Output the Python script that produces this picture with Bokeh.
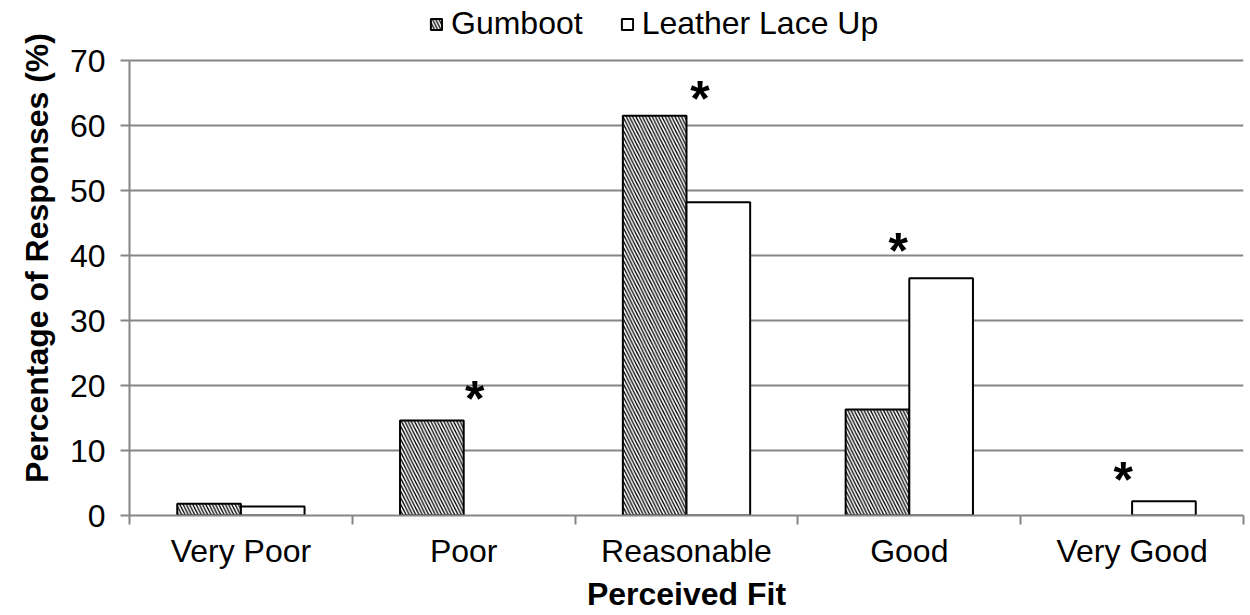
from bokeh.plotting import figure
from bokeh.models import FixedTicker, Legend, LegendItem, ColumnDataSource, Range1d
from bokeh.core.properties import value
from bokeh.embed import file_html
from bokeh.resources import INLINE

categories = ["Very Poor", "Poor", "Reasonable", "Good", "Very Good"]
gumboot = [1.8, 14.6, 61.5, 16.3, 0.0]
leather = [1.4, 0.0, 48.2, 36.5, 2.2]
series_names = ["Gumboot", "Leather Lace Up"]
star_categories = ["Poor", "Reasonable", "Good", "Very Good"]
star_heights = [18.0, 64.1, 40.7, 5.4]
star_shift = [0.05, 0.06, -0.05, -0.04]
y_ticks = [0, 10, 20, 30, 40, 50, 60, 70]

FONT = "Liberation Sans"
GRAY = "#868686"
BAR_W = 1 / 3.5

# layout (pixels)
W, H = 1250, 615
LEFT, RIGHT, BOTTOM = 129, 7, 100
AXIS_TOP = 60                      # pixel row of the 70 gridline
frame_h = H - BOTTOM                # frame extends to the top edge
y_max = 70
y_end = y_max * frame_h / (frame_h - AXIS_TOP)

centers = {c: i + 0.5 for i, c in enumerate(categories)}

def bar_source(vals, side):
    xs, tops = [], []
    for c, v in zip(categories, vals):
        if v > 0:
            xs.append(centers[c] + side * BAR_W / 2)
            tops.append(v)
    return ColumnDataSource(dict(x=xs, top=tops))

p = figure(width=W, height=H, x_range=Range1d(0, 5), y_range=Range1d(0, y_end),
           output_backend="svg", toolbar_location=None,
           min_border_left=LEFT, min_border_right=RIGHT, min_border_top=0, min_border_bottom=BOTTOM)
p.outline_line_color = None
p.background_fill_color = "white"

rg = p.vbar(x="x", top="top", bottom=0, width=BAR_W, source=bar_source(gumboot, -1),
            fill_color="white", line_color="black", line_width=2,
            hatch_pattern="left_diagonal_line", hatch_color="black", hatch_scale=6.5, hatch_weight=1.3)
rl = p.vbar(x="x", top="top", bottom=0, width=BAR_W, source=bar_source(leather, 1),
            fill_color="white", line_color="black", line_width=2)

star_src = ColumnDataSource(dict(x=[centers[c] + d for c, d in zip(star_categories, star_shift)],
                                 y=star_heights, t=["*"] * len(star_heights)))
p.text(x="x", y="y", text="t", source=star_src, text_font=value(FONT), text_font_size="50px",
       text_font_style="bold", text_align="center", text_baseline="middle", text_color="black")

# axes
p.xaxis.ticker = FixedTicker(ticks=[centers[c] for c in categories], minor_ticks=[0, 1, 2, 3, 4, 5])
p.xaxis.major_label_overrides = {centers[c]: c for c in categories}
p.xaxis.major_tick_out = 0
p.xaxis.major_tick_in = 0
p.xaxis.minor_tick_out = 9
p.xaxis.minor_tick_in = 0
p.xaxis.minor_tick_line_color = GRAY
p.xaxis.minor_tick_line_width = 2
p.xaxis.axis_label = "Perceived Fit"
p.xaxis.major_label_standoff = 8
p.xaxis.axis_label_standoff = 4

p.yaxis.ticker = FixedTicker(ticks=y_ticks)
p.yaxis.bounds = (0, y_max)
p.yaxis.minor_tick_line_color = None
p.yaxis.major_tick_out = 9
p.yaxis.major_tick_in = 0
p.yaxis.axis_label = "Percentage of Responses (%)"
p.yaxis.major_label_standoff = 15
p.yaxis.axis_label_standoff = 12

for ax in (p.xaxis[0], p.yaxis[0]):
    ax.axis_line_color = GRAY
    ax.axis_line_width = 2
    ax.major_tick_line_color = GRAY
    ax.major_tick_line_width = 2
    ax.major_label_text_font = FONT
    ax.major_label_text_font_size = "32px"
    ax.major_label_text_color = "black"
    ax.axis_label_text_font = FONT
    ax.axis_label_text_font_size = "32px"
    ax.axis_label_text_font_style = "bold"
    ax.axis_label_text_color = "black"

p.xgrid.grid_line_color = None
p.ygrid.ticker = FixedTicker(ticks=y_ticks)
p.ygrid.grid_line_color = GRAY
p.ygrid.grid_line_width = 2

legend = Legend(items=[LegendItem(label=series_names[0], renderers=[rg]),
                       LegendItem(label=series_names[1], renderers=[rl])],
                orientation="horizontal", location=(300, frame_h - 42),
                glyph_width=14, glyph_height=14, label_standoff=8, spacing=37,
                padding=0, margin=0, border_line_color=None, background_fill_alpha=0,
                label_text_font=FONT, label_text_font_size="32px", label_height=36,
                label_text_color="black")
p.add_layout(legend, "center")

open("out.html", "w").write(file_html(p, INLINE))
